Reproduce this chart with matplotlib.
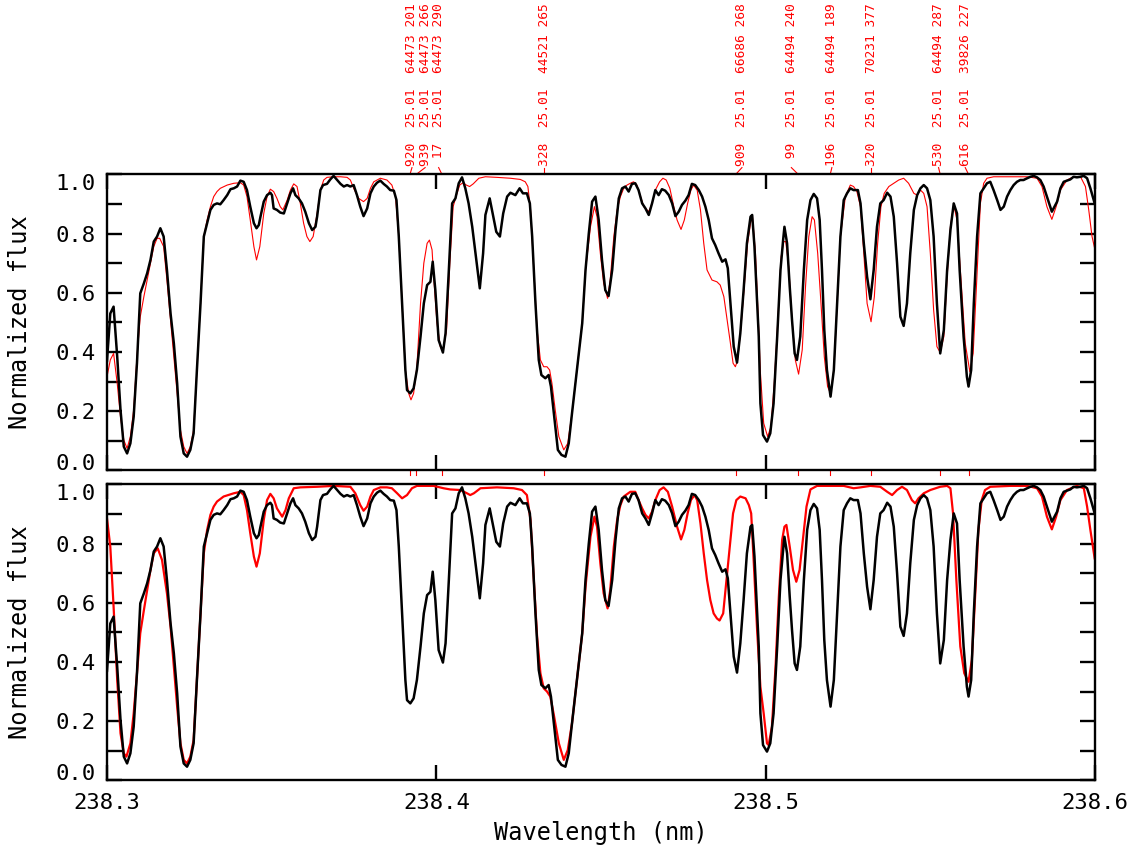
import numpy as np
import matplotlib
matplotlib.use("Agg")
import matplotlib.pyplot as plt
import matplotlib.transforms as mtransforms

# ---------------- data ----------------
# observed spectrum (black)
obs_wl = [238.3000, 238.3010, 238.3020, 238.3031, 238.3041, 238.3051, 238.3061, 238.3071, 238.3081, 238.3091,
          238.3101, 238.3112, 238.3122, 238.3132, 238.3142, 238.3152, 238.3162, 238.3172, 238.3182, 238.3193,
          238.3203, 238.3213, 238.3223, 238.3233, 238.3243, 238.3253, 238.3263, 238.3273, 238.3284, 238.3294,
          238.3304, 238.3314, 238.3324, 238.3334, 238.3344, 238.3354, 238.3365, 238.3375, 238.3385, 238.3395,
          238.3405, 238.3415, 238.3425, 238.3435, 238.3446, 238.3454, 238.3461, 238.3466, 238.3476, 238.3486,
          238.3496, 238.3501, 238.3506, 238.3516, 238.3526, 238.3537, 238.3547, 238.3557, 238.3565, 238.3572,
          238.3582, 238.3592, 238.3602, 238.3613, 238.3623, 238.3633, 238.3638, 238.3648, 238.3656, 238.3668,
          238.3678, 238.3688, 238.3699, 238.3709, 238.3719, 238.3729, 238.3739, 238.3749, 238.3759, 238.3769,
          238.3779, 238.3790, 238.3800, 238.3810, 238.3820, 238.3830, 238.3840, 238.3850, 238.3860, 238.3871,
          238.3879, 238.3886, 238.3896, 238.3906, 238.3911, 238.3921, 238.3931, 238.3941, 238.3952, 238.3962,
          238.3972, 238.3982, 238.3989, 238.3997, 238.4007, 238.4020, 238.4028, 238.4038, 238.4048, 238.4058,
          238.4068, 238.4078, 238.4088, 238.4098, 238.4109, 238.4119, 238.4132, 238.4142, 238.4149, 238.4162,
          238.4172, 238.4182, 238.4193, 238.4203, 238.4215, 238.4225, 238.4240, 238.4253, 238.4263, 238.4275,
          238.4284, 238.4291, 238.4301, 238.4311, 238.4319, 238.4331, 238.4341, 238.4348, 238.4358, 238.4369,
          238.4380, 238.4392, 238.4402, 238.4412, 238.4427, 238.4443, 238.4453, 238.4463, 238.4473, 238.4483,
          238.4493, 238.4503, 238.4513, 238.4523, 238.4534, 238.4544, 238.4554, 238.4564, 238.4574, 238.4584,
          238.4594, 238.4604, 238.4614, 238.4625, 238.4635, 238.4645, 238.4655, 238.4665, 238.4675, 238.4685,
          238.4695, 238.4706, 238.4716, 238.4726, 238.4736, 238.4746, 238.4756, 238.4766, 238.4776, 238.4786,
          238.4797, 238.4807, 238.4817, 238.4827, 238.4837, 238.4847, 238.4857, 238.4868, 238.4878, 238.4885,
          238.4893, 238.4903, 238.4913, 238.4923, 238.4933, 238.4943, 238.4954, 238.4959, 238.4966, 238.4979,
          238.4984, 238.4992, 238.5004, 238.5014, 238.5024, 238.5035, 238.5045, 238.5053, 238.5057, 238.5065,
          238.5073, 238.5080, 238.5088, 238.5095, 238.5105, 238.5116, 238.5126, 238.5136, 238.5146, 238.5156,
          238.5164, 238.5171, 238.5178, 238.5186, 238.5197, 238.5207, 238.5217, 238.5227, 238.5237, 238.5247,
          238.5257, 238.5267, 238.5280, 238.5288, 238.5298, 238.5308, 238.5318, 238.5328, 238.5338, 238.5348,
          238.5358, 238.5369, 238.5379, 238.5389, 238.5399, 238.5409, 238.5419, 238.5429, 238.5439, 238.5450,
          238.5460, 238.5470, 238.5480, 238.5490, 238.5500, 238.5510, 238.5520, 238.5530, 238.5541, 238.5551,
          238.5561, 238.5571, 238.5581, 238.5589, 238.5601, 238.5611, 238.5616, 238.5624, 238.5632, 238.5642,
          238.5652, 238.5662, 238.5672, 238.5682, 238.5692, 238.5703, 238.5713, 238.5723, 238.5733, 238.5743,
          238.5753, 238.5763, 238.5773, 238.5783, 238.5794, 238.5804, 238.5814, 238.5824, 238.5834, 238.5844,
          238.5854, 238.5869, 238.5885, 238.5895, 238.5905, 238.5915, 238.5925, 238.5935, 238.5945, 238.5956,
          238.5966, 238.5976, 238.5986, 238.5999]
obs_flux = [0.370, 0.530, 0.553, 0.384, 0.204, 0.080, 0.057, 0.091, 0.181, 0.362,
            0.598, 0.632, 0.666, 0.711, 0.773, 0.790, 0.818, 0.790, 0.677, 0.530,
            0.429, 0.294, 0.114, 0.057, 0.046, 0.069, 0.125, 0.339, 0.564, 0.790,
            0.835, 0.880, 0.897, 0.902, 0.899, 0.913, 0.930, 0.950, 0.953, 0.959,
            0.979, 0.975, 0.947, 0.891, 0.835, 0.818, 0.829, 0.857, 0.908, 0.930,
            0.938, 0.930, 0.885, 0.880, 0.871, 0.868, 0.902, 0.936, 0.953, 0.930,
            0.919, 0.902, 0.874, 0.835, 0.812, 0.823, 0.857, 0.947, 0.964, 0.968,
            0.983, 0.995, 0.981, 0.968, 0.959, 0.964, 0.959, 0.964, 0.930, 0.891,
            0.859, 0.885, 0.936, 0.959, 0.972, 0.979, 0.968, 0.959, 0.947, 0.945,
            0.913, 0.790, 0.564, 0.339, 0.271, 0.260, 0.277, 0.339, 0.452, 0.564,
            0.626, 0.637, 0.705, 0.609, 0.440, 0.398, 0.463, 0.677, 0.902, 0.919,
            0.970, 0.990, 0.953, 0.902, 0.823, 0.733, 0.615, 0.733, 0.863, 0.919,
            0.863, 0.806, 0.790, 0.868, 0.925, 0.938, 0.930, 0.953, 0.936, 0.936,
            0.902, 0.790, 0.564, 0.373, 0.322, 0.311, 0.322, 0.283, 0.181, 0.069,
            0.052, 0.046, 0.091, 0.193, 0.339, 0.497, 0.677, 0.801, 0.908, 0.925,
            0.846, 0.711, 0.609, 0.589, 0.677, 0.812, 0.919, 0.953, 0.959, 0.942,
            0.968, 0.970, 0.947, 0.902, 0.885, 0.863, 0.902, 0.947, 0.930, 0.950,
            0.945, 0.930, 0.902, 0.859, 0.874, 0.897, 0.911, 0.930, 0.968, 0.964,
            0.947, 0.925, 0.891, 0.846, 0.784, 0.761, 0.733, 0.705, 0.713, 0.683,
            0.564, 0.418, 0.364, 0.463, 0.609, 0.767, 0.857, 0.863, 0.756, 0.452,
            0.226, 0.119, 0.097, 0.125, 0.226, 0.452, 0.677, 0.778, 0.823, 0.767,
            0.621, 0.508, 0.395, 0.373, 0.452, 0.677, 0.846, 0.913, 0.934, 0.919,
            0.846, 0.677, 0.474, 0.339, 0.249, 0.339, 0.564, 0.790, 0.913, 0.936,
            0.953, 0.947, 0.947, 0.902, 0.767, 0.654, 0.578, 0.677, 0.823, 0.902,
            0.913, 0.938, 0.925, 0.857, 0.700, 0.519, 0.488, 0.564, 0.733, 0.880,
            0.930, 0.953, 0.964, 0.953, 0.913, 0.790, 0.564, 0.395, 0.474, 0.677,
            0.812, 0.902, 0.868, 0.677, 0.452, 0.316, 0.283, 0.339, 0.564, 0.790,
            0.936, 0.953, 0.970, 0.975, 0.947, 0.913, 0.880, 0.891, 0.925, 0.947,
            0.964, 0.975, 0.981, 0.981, 0.987, 0.992, 0.995, 0.990, 0.981, 0.959,
            0.925, 0.874, 0.908, 0.953, 0.975, 0.979, 0.983, 0.992, 0.990, 0.992,
            0.995, 0.987, 0.953, 0.902]

# full synthetic spectrum (top panel, thin red)
full_wl = [238.3000, 238.3010, 238.3020, 238.3031, 238.3041, 238.3051, 238.3061, 238.3071, 238.3081, 238.3091,
           238.3101, 238.3112, 238.3122, 238.3132, 238.3142, 238.3152, 238.3160, 238.3172, 238.3182, 238.3193,
           238.3203, 238.3213, 238.3223, 238.3233, 238.3243, 238.3253, 238.3263, 238.3273, 238.3284, 238.3294,
           238.3304, 238.3314, 238.3324, 238.3334, 238.3344, 238.3365, 238.3385, 238.3405, 238.3415, 238.3425,
           238.3435, 238.3446, 238.3454, 238.3464, 238.3476, 238.3486, 238.3496, 238.3506, 238.3516, 238.3526,
           238.3534, 238.3547, 238.3557, 238.3567, 238.3577, 238.3587, 238.3597, 238.3607, 238.3616, 238.3626,
           238.3638, 238.3648, 238.3658, 238.3668, 238.3688, 238.3709, 238.3729, 238.3739, 238.3749, 238.3764,
           238.3779, 238.3790, 238.3800, 238.3810, 238.3830, 238.3850, 238.3865, 238.3876, 238.3886, 238.3896,
           238.3906, 238.3916, 238.3923, 238.3931, 238.3941, 238.3952, 238.3962, 238.3972, 238.3979, 238.3987,
           238.3992, 238.4002, 238.4012, 238.4020, 238.4031, 238.4041, 238.4051, 238.4061, 238.4071, 238.4081,
           238.4091, 238.4101, 238.4112, 238.4129, 238.4149, 238.4184, 238.4225, 238.4255, 238.4270, 238.4278,
           238.4286, 238.4296, 238.4306, 238.4316, 238.4326, 238.4336, 238.4344, 238.4351, 238.4361, 238.4372,
           238.4387, 238.4399, 238.4412, 238.4427, 238.4443, 238.4453, 238.4468, 238.4480, 238.4488, 238.4498,
           238.4508, 238.4520, 238.4528, 238.4539, 238.4549, 238.4559, 238.4569, 238.4579, 238.4589, 238.4599,
           238.4609, 238.4620, 238.4630, 238.4645, 238.4655, 238.4665, 238.4678, 238.4688, 238.4698, 238.4709,
           238.4721, 238.4731, 238.4743, 238.4753, 238.4763, 238.4773, 238.4781, 238.4792, 238.4802, 238.4812,
           238.4822, 238.4837, 238.4852, 238.4862, 238.4873, 238.4883, 238.4893, 238.4901, 238.4908, 238.4915,
           238.4925, 238.4935, 238.4945, 238.4954, 238.4960, 238.4969, 238.4979, 238.4984, 238.4994, 238.5006,
           238.5016, 238.5026, 238.5037, 238.5047, 238.5055, 238.5061, 238.5070, 238.5080, 238.5090, 238.5100,
           238.5111, 238.5121, 238.5131, 238.5141, 238.5148, 238.5158, 238.5168, 238.5178, 238.5188, 238.5197,
           238.5207, 238.5217, 238.5227, 238.5242, 238.5257, 238.5267, 238.5277, 238.5288, 238.5298, 238.5308,
           238.5320, 238.5330, 238.5340, 238.5350, 238.5360, 238.5374, 238.5389, 238.5404, 238.5419, 238.5434,
           238.5450, 238.5460, 238.5470, 238.5480, 238.5490, 238.5500, 238.5510, 238.5520, 238.5530, 238.5541,
           238.5551, 238.5561, 238.5571, 238.5581, 238.5591, 238.5606, 238.5620, 238.5630, 238.5640, 238.5652,
           238.5662, 238.5672, 238.5692, 238.5753, 238.5794, 238.5824, 238.5839, 238.5854, 238.5869, 238.5882,
           238.5895, 238.5915, 238.5935, 238.5956, 238.5971, 238.5981, 238.5991, 238.5999]
full_flux = [0.316, 0.373, 0.395, 0.294, 0.181, 0.102, 0.074, 0.114, 0.204, 0.384,
             0.519, 0.587, 0.643, 0.700, 0.756, 0.784, 0.784, 0.756, 0.643, 0.508,
             0.384, 0.260, 0.136, 0.080, 0.057, 0.080, 0.136, 0.339, 0.564, 0.790,
             0.846, 0.891, 0.925, 0.942, 0.953, 0.964, 0.970, 0.972, 0.964, 0.925,
             0.846, 0.756, 0.711, 0.756, 0.868, 0.925, 0.950, 0.942, 0.919, 0.891,
             0.880, 0.913, 0.947, 0.968, 0.959, 0.902, 0.835, 0.790, 0.773, 0.790,
             0.868, 0.947, 0.981, 0.990, 0.992, 0.992, 0.990, 0.981, 0.953, 0.919,
             0.908, 0.919, 0.953, 0.975, 0.987, 0.981, 0.964, 0.925, 0.790, 0.564,
             0.339, 0.260, 0.238, 0.260, 0.350, 0.564, 0.700, 0.767, 0.778, 0.745,
             0.654, 0.497, 0.418, 0.401, 0.474, 0.700, 0.891, 0.930, 0.964, 0.972,
             0.964, 0.959, 0.968, 0.987, 0.992, 0.990, 0.987, 0.983, 0.975, 0.959,
             0.880, 0.677, 0.474, 0.373, 0.350, 0.350, 0.339, 0.294, 0.204, 0.114,
             0.069, 0.091, 0.193, 0.339, 0.497, 0.677, 0.823, 0.891, 0.857, 0.733,
             0.632, 0.581, 0.643, 0.790, 0.880, 0.925, 0.953, 0.964, 0.970, 0.975,
             0.964, 0.925, 0.891, 0.874, 0.902, 0.947, 0.975, 0.987, 0.981, 0.953,
             0.891, 0.846, 0.814, 0.846, 0.902, 0.947, 0.964, 0.947, 0.880, 0.767,
             0.677, 0.643, 0.637, 0.626, 0.587, 0.508, 0.429, 0.362, 0.350, 0.373,
             0.485, 0.621, 0.767, 0.835, 0.857, 0.733, 0.474, 0.330, 0.159, 0.114,
             0.147, 0.294, 0.508, 0.722, 0.773, 0.773, 0.688, 0.508, 0.373, 0.325,
             0.407, 0.621, 0.790, 0.857, 0.846, 0.733, 0.564, 0.384, 0.283, 0.260,
             0.339, 0.564, 0.790, 0.925, 0.964, 0.959, 0.942, 0.891, 0.733, 0.564,
             0.502, 0.587, 0.767, 0.891, 0.936, 0.959, 0.970, 0.981, 0.987, 0.970,
             0.936, 0.930, 0.947, 0.936, 0.891, 0.733, 0.542, 0.418, 0.398, 0.452,
             0.654, 0.823, 0.897, 0.846, 0.677, 0.429, 0.333, 0.395, 0.621, 0.902,
             0.970, 0.987, 0.992, 0.992, 0.992, 0.987, 0.959, 0.891, 0.848, 0.891,
             0.947, 0.981, 0.992, 0.992, 0.959, 0.880, 0.790, 0.750]

# synthetic spectrum without the labelled lines (bottom panel, thick red)
part_wl = [238.3000, 238.3010, 238.3020, 238.3031, 238.3041, 238.3051, 238.3059, 238.3071, 238.3081, 238.3091,
           238.3101, 238.3112, 238.3122, 238.3132, 238.3142, 238.3154, 238.3167, 238.3182, 238.3193, 238.3203,
           238.3213, 238.3223, 238.3233, 238.3243, 238.3253, 238.3263, 238.3273, 238.3284, 238.3294, 238.3304,
           238.3314, 238.3324, 238.3334, 238.3354, 238.3385, 238.3405, 238.3415, 238.3425, 238.3435, 238.3446,
           238.3454, 238.3464, 238.3476, 238.3486, 238.3496, 238.3506, 238.3516, 238.3532, 238.3542, 238.3552,
           238.3567, 238.3587, 238.3638, 238.3688, 238.3739, 238.3754, 238.3769, 238.3779, 238.3790, 238.3800,
           238.3810, 238.3830, 238.3850, 238.3865, 238.3881, 238.3896, 238.3911, 238.3926, 238.3941, 238.3992,
           238.4022, 238.4042, 238.4073, 238.4093, 238.4103, 238.4114, 238.4134, 238.4184, 238.4235, 238.4260,
           238.4275, 238.4286, 238.4296, 238.4306, 238.4316, 238.4326, 238.4336, 238.4346, 238.4356, 238.4372,
           238.4387, 238.4399, 238.4412, 238.4427, 238.4443, 238.4453, 238.4468, 238.4480, 238.4488, 238.4498,
           238.4508, 238.4520, 238.4528, 238.4539, 238.4549, 238.4559, 238.4569, 238.4589, 238.4604, 238.4614,
           238.4625, 238.4635, 238.4645, 238.4655, 238.4665, 238.4678, 238.4690, 238.4703, 238.4716, 238.4731,
           238.4743, 238.4753, 238.4763, 238.4773, 238.4784, 238.4792, 238.4802, 238.4812, 238.4822, 238.4832,
           238.4842, 238.4852, 238.4860, 238.4871, 238.4881, 238.4891, 238.4901, 238.4911, 238.4923, 238.4939,
           238.4949, 238.4956, 238.4964, 238.4974, 238.4984, 238.4994, 238.5004, 238.5009, 238.5019, 238.5030,
           238.5040, 238.5050, 238.5057, 238.5063, 238.5073, 238.5083, 238.5093, 238.5103, 238.5114, 238.5124,
           238.5136, 238.5156, 238.5237, 238.5267, 238.5288, 238.5318, 238.5348, 238.5369, 238.5384, 238.5399,
           238.5414, 238.5429, 238.5444, 238.5454, 238.5464, 238.5480, 238.5500, 238.5530, 238.5551, 238.5561,
           238.5569, 238.5579, 238.5591, 238.5603, 238.5616, 238.5626, 238.5636, 238.5646, 238.5656, 238.5666,
           238.5682, 238.5743, 238.5794, 238.5824, 238.5839, 238.5854, 238.5869, 238.5882, 238.5895, 238.5915,
           238.5945, 238.5966, 238.5976, 238.5986, 238.5999]
part_flux = [0.885, 0.790, 0.587, 0.339, 0.159, 0.091, 0.080, 0.125, 0.226, 0.362,
             0.497, 0.575, 0.643, 0.711, 0.767, 0.784, 0.745, 0.632, 0.519, 0.384,
             0.249, 0.125, 0.069, 0.057, 0.080, 0.136, 0.339, 0.564, 0.767, 0.846,
             0.897, 0.925, 0.942, 0.959, 0.970, 0.975, 0.964, 0.913, 0.835, 0.756,
             0.722, 0.767, 0.880, 0.947, 0.968, 0.953, 0.919, 0.891, 0.913, 0.953,
             0.987, 0.990, 0.992, 0.995, 0.992, 0.970, 0.930, 0.911, 0.925, 0.959,
             0.981, 0.990, 0.990, 0.987, 0.970, 0.953, 0.964, 0.987, 0.995, 0.995,
             0.987, 0.983, 0.981, 0.970, 0.964, 0.970, 0.987, 0.990, 0.987, 0.981,
             0.964, 0.880, 0.677, 0.485, 0.362, 0.311, 0.300, 0.283, 0.226, 0.125,
             0.069, 0.102, 0.193, 0.339, 0.497, 0.654, 0.823, 0.891, 0.857, 0.733,
             0.632, 0.581, 0.643, 0.790, 0.880, 0.930, 0.959, 0.975, 0.975, 0.947,
             0.919, 0.897, 0.885, 0.908, 0.947, 0.981, 0.990, 0.975, 0.925, 0.857,
             0.814, 0.846, 0.902, 0.947, 0.964, 0.947, 0.868, 0.767, 0.677, 0.609,
             0.564, 0.547, 0.540, 0.564, 0.677, 0.790, 0.902, 0.947, 0.959, 0.953,
             0.930, 0.902, 0.733, 0.508, 0.316, 0.226, 0.125, 0.119, 0.181, 0.384,
             0.621, 0.812, 0.857, 0.863, 0.790, 0.711, 0.671, 0.711, 0.823, 0.925,
             0.983, 0.995, 0.995, 0.987, 0.990, 0.995, 0.992, 0.975, 0.964, 0.981,
             0.992, 0.981, 0.947, 0.936, 0.953, 0.970, 0.981, 0.992, 0.995, 0.987,
             0.902, 0.677, 0.452, 0.362, 0.333, 0.407, 0.621, 0.846, 0.947, 0.981,
             0.992, 0.995, 0.995, 0.987, 0.959, 0.891, 0.848, 0.891, 0.947, 0.981,
             0.995, 0.987, 0.925, 0.846, 0.750]

# identified lines (Mn II, code 25.01)
line_wl = [238.3920, 238.3939, 238.4017, 238.4328, 238.4909,
           238.5099, 238.5196, 238.5320, 238.5530, 238.5616]
line_species = ["25.01"] * 10
line_elow = [64473, 64473, 64473, 44521, 66686, 64494, 64494, 70231, 64494, 39826]
line_strength = [201, 266, 290, 265, 268, 240, 189, 377, 287, 227]

x_ticks = [238.3, 238.4, 238.5, 238.6]
y_ticks = [0.0, 0.1, 0.2, 0.3, 0.4, 0.5, 0.6, 0.7, 0.8, 0.9, 1.0]
y_ticklabels = ["0.0", "", "0.2", "", "0.4", "", "0.6", "", "0.8", "", "1.0"]

# label placement (horizontal shift of label text, nm)
label_shift = [0.0006, 0.0027, -0.0010, 0.0, 0.0019, -0.0021, 0.0005, 0.0, -0.0005, -0.0010]

# ---------------- figure ----------------
W, H = 1147, 855
fig = plt.figure(figsize=(W / 100, H / 100), dpi=100)
mono = "DejaVu Sans Mono"

left = 107 / W
width = 988 / W
ax1 = fig.add_axes([left, 1 - 470.3 / H, width, 295.9 / H])
ax2 = fig.add_axes([left, 1 - 780.3 / H, width, 295.9 / H])

for ax in (ax1, ax2):
    ax.set_xlim(238.3, 238.6)
    ax.set_ylim(0.0, 1.0)
    ax.set_xticks(x_ticks)
    ax.set_yticks(y_ticks)
    ax.set_yticklabels(y_ticklabels, fontfamily=mono, fontsize=16)
    ax.tick_params(axis="both", which="major", direction="in", length=10.8, width=1.7,
                   top=True, right=True, color="black")
    ax.tick_params(axis="y", pad=8)
    ax.tick_params(axis="x", pad=9.5)
    for sp in ax.spines.values():
        sp.set_linewidth(1.7)
    ticks = ax.yaxis.get_major_ticks()
    ticks[0].label1.set_va("baseline")
    ticks[-1].label1.set_va("top")

ax1.set_xticklabels([])
ax2.set_xticklabels(["238.3", "238.4", "238.5", "238.6"], fontfamily=mono, fontsize=16)

ax1.plot(full_wl, full_flux, color="red", lw=0.8, zorder=2)
ax1.plot(obs_wl, obs_flux, color="black", lw=1.8, zorder=3)
ax2.plot(part_wl, part_flux, color="red", lw=1.6, zorder=2)
ax2.plot(obs_wl, obs_flux, color="black", lw=1.8, zorder=3)

# line identifications above the top panel
trans = mtransforms.blended_transform_factory(ax1.transData, ax1.transAxes)
for wl, sp, el, st, sh in zip(line_wl, line_species, line_elow, line_strength, label_shift):
    code = int(round(wl * 10000)) % 1000
    label = f"{code:3d}  {sp}  {el:5d} {st}"
    ax1.plot([wl, wl + sh], [1.0, 1.023], color="red", lw=0.8, transform=trans, clip_on=False)
    ax1.plot([wl, wl], [0.0, -0.016], color="red", lw=0.8, transform=trans, clip_on=False)
    ax1.text(wl + sh, 1.028, label, transform=trans, rotation=90, ha="center", va="bottom",
             color="red", fontfamily=mono, fontsize=9.3)

fig.text(20 / W, 1 - 322 / H, "Normalized flux", rotation=90, ha="center", va="center",
         fontfamily=mono, fontsize=17)
fig.text(20 / W, 1 - 632 / H, "Normalized flux", rotation=90, ha="center", va="center",
         fontfamily=mono, fontsize=17)
fig.text(601 / W, 1 - 833 / H, "Wavelength (nm)", ha="center", va="center",
         fontfamily=mono, fontsize=17)

fig.savefig("out.png", dpi=100)
